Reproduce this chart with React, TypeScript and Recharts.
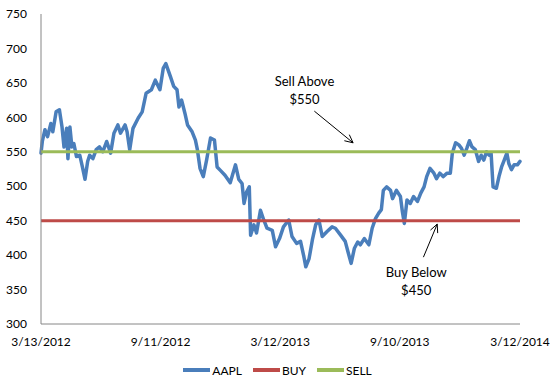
import React from "react";
import {
    LineChart, Line,
    XAxis, YAxis,
    Legend,
    ReferenceLine,
    ReferenceDot
} from "recharts";

// days since 3/13/2012 and the AAPL close
const DAYS = [
    0, 2, 6, 10, 15, 18, 23, 28, 32, 35, 39, 41, 44, 47, 50, 54, 59, 63, 67, 71,
    74, 79, 84, 89, 94, 100, 106, 111, 117, 121, 128, 131, 135, 140, 148, 154, 160, 168, 174, 181,
    186, 190, 197, 202, 207, 210, 214, 219, 223, 230, 235, 238, 242, 247, 252, 258, 264, 268, 273, 280,
    288, 296, 301, 306, 309, 313, 317, 319, 324, 328, 334, 339, 344, 352, 357, 363, 369, 377, 382, 389,
    395, 400, 403, 408, 413, 418, 423, 428, 435, 443, 448, 456, 463, 468, 472, 477, 482, 486, 492, 499,
    504, 509, 514, 518, 521, 526, 532, 535, 541, 547, 550, 553, 557, 562, 567, 573, 578, 583, 587, 592,
    598, 602, 607, 612, 618, 623, 626, 631, 636, 640, 644, 648, 652, 656, 661, 666, 670, 674, 678, 682,
    685, 688, 693, 697, 701, 705, 709, 712, 716, 720, 725, 729
];

const AAPL = [
    548, 565, 582, 572, 591, 579, 608, 611, 586, 557, 584, 540, 586, 557, 562, 543, 545, 528, 510, 536,
    545, 540, 553, 557, 550, 565, 548, 577, 589, 577, 589, 579, 553, 584, 599, 608, 635, 640, 654, 640,
    671, 678, 659, 645, 640, 615, 625, 606, 589, 579, 567, 553, 526, 514, 538, 570, 567, 528, 523, 516,
    505, 531, 510, 504, 475, 492, 499, 429, 444, 432, 465, 451, 439, 436, 412, 424, 441, 451, 427, 417,
    420, 398, 383, 395, 422, 444, 451, 427, 434, 441, 439, 429, 420, 402, 388, 410, 419, 415, 424, 415,
    439, 453, 461, 466, 494, 499, 494, 482, 494, 485, 463, 446, 480, 475, 485, 478, 490, 499, 514, 526,
    519, 511, 519, 514, 519, 519, 548, 563, 560, 555, 545, 555, 566, 557, 553, 536, 545, 538, 550, 545,
    548, 499, 497, 514, 528, 538, 548, 533, 524, 531, 531, 536
];

const BUY_LEVEL = 450;
const SELL_LEVEL = 550;

const TICK_DAYS = [0, 182, 364, 546, 729];
const TICK_LABELS = ["3/13/2012", "9/11/2012", "3/12/2013", "9/10/2013", "3/12/2014"];
const Y_TICKS = [300, 350, 400, 450, 500, 550, 600, 650, 700, 750];

const FONT = "Lato, 'Liberation Sans', sans-serif";

const data = DAYS.map((d, i) => ({
    day: d,
    aapl: AAPL[i],
    buy: BUY_LEVEL,
    sell: SELL_LEVEL
}));

const tickLabel = (v: number) => {
    const i = TICK_DAYS.indexOf(v);
    return i >= 0 ? TICK_LABELS[i] : "";
};

// open arrow head like the Excel shape
const Arrow = (props: any) => {
    const { x1, y1, x2, y2 } = props;
    const a = Math.atan2(y2 - y1, x2 - x1);
    const len = 9;
    const spread = 0.45;
    const ax = x2 - len * Math.cos(a - spread);
    const ay = y2 - len * Math.sin(a - spread);
    const bx = x2 - len * Math.cos(a + spread);
    const by = y2 - len * Math.sin(a + spread);
    return (
        <g>
            <line x1={x1} y1={y1} x2={x2} y2={y2} stroke="#000" strokeWidth={1} />
            <polyline points={`${ax},${ay} ${x2},${y2} ${bx},${by}`} fill="none" stroke="#000" strokeWidth={1} />
        </g>
    );
};

const noteShape = (lines: string[]) => (props: any) => {
    const { cx, cy } = props;
    return (
        <text x={cx} y={cy} textAnchor="middle" fontFamily={FONT} fontSize={13} fill="#000">
            <tspan x={cx} dy={-4}>{lines[0]}</tspan>
            <tspan x={cx} dy={18}>{lines[1]}</tspan>
        </text>
    );
};

const renderLegend = (props: any) => {
    const { payload = [] } = props;
    return (
        <div style={{
            display: "flex",
            justifyContent: "center",
            alignItems: "center",
            height: 20,
            paddingLeft: 7,
            fontFamily: FONT,
            fontSize: 12,
            color: "#000"
        }}>
            {payload.map((e: any) => (
                <div key={e.value} style={{ display: "flex", alignItems: "center", marginRight: 11 }}>
                    <span style={{ display: "inline-block", width: 27, height: 4, background: e.color, marginRight: 2 }} />
                    <span>{e.value}</span>
                </div>
            ))}
        </div>
    );
};

export default function App() {
    return (
        <div style={{ position: "absolute", left: 0, top: 0, width: 559, height: 383, background: "#fff" }}>
            <LineChart
                width={559}
                height={383}
                data={data}
                margin={{ top: 14, right: 39, left: 0, bottom: 9 }}
            >
                <XAxis
                    dataKey="day"
                    type="number"
                    domain={[0, 729]}
                    ticks={TICK_DAYS}
                    tickFormatter={tickLabel}
                    interval={0}
                    height={30}
                    tickLine={false}
                    tickSize={6}
                    tickMargin={7}
                    axisLine={{ stroke: "#868686" }}
                    tick={{ fill: "#000", fontSize: 12, fontFamily: FONT }}
                />
                <YAxis
                    domain={[300, 750]}
                    ticks={Y_TICKS}
                    interval={0}
                    width={41}
                    tickLine={false}
                    tickSize={6}
                    tickMargin={8}
                    axisLine={{ stroke: "#868686" }}
                    tick={{ fill: "#000", fontSize: 12, fontFamily: FONT }}
                />
                <Line
                    type="linear"
                    dataKey="aapl"
                    name="AAPL"
                    stroke="#4A7EBB"
                    strokeWidth={3.5}
                    strokeLinejoin="round"
                    strokeLinecap="round"
                    dot={false}
                    isAnimationActive={false}
                />
                <Line
                    type="linear"
                    dataKey="buy"
                    name="BUY"
                    stroke="#BE4B48"
                    strokeWidth={3}
                    dot={false}
                    isAnimationActive={false}
                />
                <Line
                    type="linear"
                    dataKey="sell"
                    name="SELL"
                    stroke="#9BBB59"
                    strokeWidth={3}
                    dot={false}
                    isAnimationActive={false}
                />

                {/* annotations */}
                <ReferenceLine segment={[{ x: 416, y: 609 }, { x: 475, y: 563 }]} shape={Arrow} />
                <ReferenceLine segment={[{ x: 582, y: 397 }, { x: 603, y: 445 }]} shape={Arrow} />
                <ReferenceDot x={401} y={639} r={0} shape={noteShape(["Sell Above", "$550"])} />
                <ReferenceDot x={571} y={362} r={0} shape={noteShape(["Buy Below", "$450"])} />

                <Legend
                    verticalAlign="bottom"
                    content={renderLegend}
                    wrapperStyle={{ left: 0, width: 559, bottom: 3 }}
                />
            </LineChart>
        </div>
    );
}
